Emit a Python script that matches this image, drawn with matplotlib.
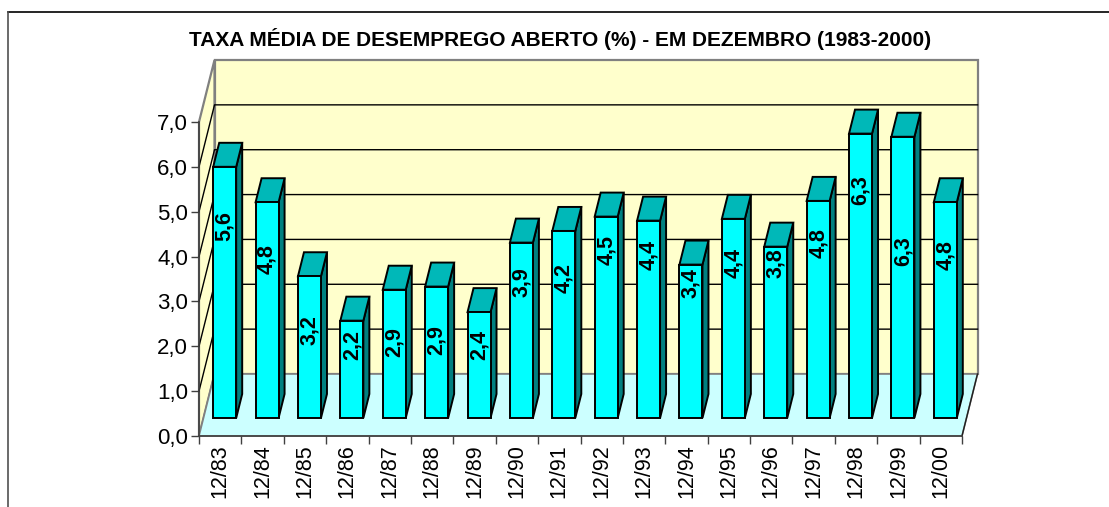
import numpy as np
import matplotlib
matplotlib.use("Agg")
import matplotlib.pyplot as plt
from matplotlib.patches import Polygon
from matplotlib.lines import Line2D
from matplotlib.ticker import FixedLocator

# ---------------- data ----------------
categories = ["12/83", "12/84", "12/85", "12/86", "12/87", "12/88", "12/89", "12/90", "12/91",
              "12/92", "12/93", "12/94", "12/95", "12/96", "12/97", "12/98", "12/99", "12/00"]
values = [5.60, 4.81, 3.16, 2.17, 2.86, 2.93, 2.36, 3.91, 4.17,
          4.49, 4.40, 3.42, 4.44, 3.82, 4.84, 6.34, 6.27, 4.81]
# vertical position (value units) of each data label's centre, as placed in the original
label_pos = [4.29, 3.55, 1.96, 1.63, 1.70, 1.74, 1.63, 3.04, 3.13,
             3.75, 3.64, 3.01, 3.46, 3.46, 3.91, 5.09, 3.73, 3.64]
yticks = [0, 1, 2, 3, 4, 5, 6, 7]
ytick_labels = ["0,0", "1,0", "2,0", "3,0", "4,0", "5,0", "6,0", "7,0"]
title = "TAXA MÉDIA DE DESEMPREGO ABERTO (%) - EM DEZEMBRO (1983-2000)"

# ---------------- layout ----------------
W, H = 1109, 507
plt.rcParams['font.family'] = ['Liberation Sans', 'DejaVu Sans']
fig = plt.figure(figsize=(W / 100, H / 100), dpi=100)
fig.patch.set_facecolor("white")

X0, X1, Y0, Y1 = 199, 962, 436, 122        # front plane in pixels
ax = fig.add_axes([X0 / W, (H - Y0) / H, (X1 - X0) / W, (Y0 - Y1) / H])
n = len(categories)
ymax = yticks[-1]
ax.set_xlim(0, n)
ax.set_ylim(0, ymax)
ax.patch.set_alpha(0)

px_x = (X1 - X0) / n
px_y = (Y0 - Y1) / ymax
DEPTH_PX_X, DEPTH_PX_Y = 15.5, 62.0
DDX = DEPTH_PX_X / px_x
DDY = DEPTH_PX_Y / px_y


def P(x, y, d):
    return (x + DDX * d, y + DDY * d)


wall_edge = "#808080"
# back wall
ax.add_patch(Polygon([P(0, 0, 1), P(n, 0, 1), P(n, ymax, 1), P(0, ymax, 1)],
                     closed=True, fc="#FFFFCC", ec=wall_edge, lw=1.6, clip_on=False, zorder=1))
# left wall
ax.add_patch(Polygon([P(0, 0, 0), P(0, 0, 1), P(0, ymax, 1), P(0, ymax, 0)],
                     closed=True, fc="#FFFFCC", ec=wall_edge, lw=1.6, clip_on=False, zorder=1))
# floor
ax.add_patch(Polygon([P(0, 0, 0), P(n, 0, 0), P(n, 0, 1), P(0, 0, 1)],
                     closed=True, fc="#CCFFFF", ec=wall_edge, lw=1.2, clip_on=False, zorder=1))
ax.plot(*zip(P(n, 0, 0), P(n, 0, 1)), color="#202020", lw=1.0, clip_on=False, zorder=2)
# gridlines
for v in yticks[1:-1]:
    pts = [P(0, v, 0), P(0, v, 1), P(n, v, 1)]
    ax.plot([p[0] for p in pts], [p[1] for p in pts], color="black", lw=1.0,
            clip_on=False, zorder=2)

# bars
bw = 23 / px_x
d0, d1 = 18 / 62, 42 / 62
for i, v in enumerate(values):
    xc = i + 0.5
    xa, xb = xc - bw / 2, xc + bw / 2
    front = [P(xa, 0, d0), P(xb, 0, d0), P(xb, v, d0), P(xa, v, d0)]
    top = [P(xa, v, d0), P(xb, v, d0), P(xb, v, d1), P(xa, v, d1)]
    side = [P(xb, 0, d0), P(xb, 0, d1), P(xb, v, d1), P(xb, v, d0)]
    for poly, col in ((side, "#008080"), (top, "#00B8B8"), (front, "#00FFFF")):
        ax.add_patch(Polygon(poly, closed=True, fc=col, ec="black", lw=1.4,
                             joinstyle="miter", clip_on=False, zorder=3))
    lx, ly = P(xc, label_pos[i], d0)
    ax.text(lx, ly, f"{v:.1f}".replace(".", ","), rotation=90, ha="center", va="center",
            fontsize=15.5, fontweight="bold", color="black", zorder=5, clip_on=False)

# axes / ticks
for s in ("top", "right"):
    ax.spines[s].set_visible(False)
for s in ("left", "bottom"):
    ax.spines[s].set_color("#404040")
    ax.spines[s].set_linewidth(1.2)
    ax.spines[s].set_zorder(4)
ax.set_yticks(yticks)
ax.set_yticklabels(ytick_labels, fontsize=16)
ax.xaxis.set_major_locator(FixedLocator(list(range(n + 1))))
ax.xaxis.set_minor_locator(FixedLocator([i + 0.5 for i in range(n)]))
ax.set_xticklabels([], minor=False)
ax.set_xticklabels(categories, minor=True, rotation=90, fontsize=15.5)
ax.tick_params(axis="x", which="major", length=6, width=1, color="#404040", direction="out")
ax.tick_params(axis="x", which="minor", length=0, pad=6)
ax.tick_params(axis="y", length=6, width=1, color="#404040", pad=2)

# title
fig.text(560 / W, (H - 39) / H, title, ha="center", va="center",
         fontsize=15, fontweight="bold", color="black")

# chart-area border
fig.add_artist(Line2D([8 / W, 1.0], [(H - 12) / H] * 2, transform=fig.transFigure,
                      color="black", lw=1.2))
fig.add_artist(Line2D([8 / W] * 2, [0, (H - 12) / H], transform=fig.transFigure,
                      color="#505050", lw=1.2))

fig.savefig("out.png", dpi=100, facecolor="white")
